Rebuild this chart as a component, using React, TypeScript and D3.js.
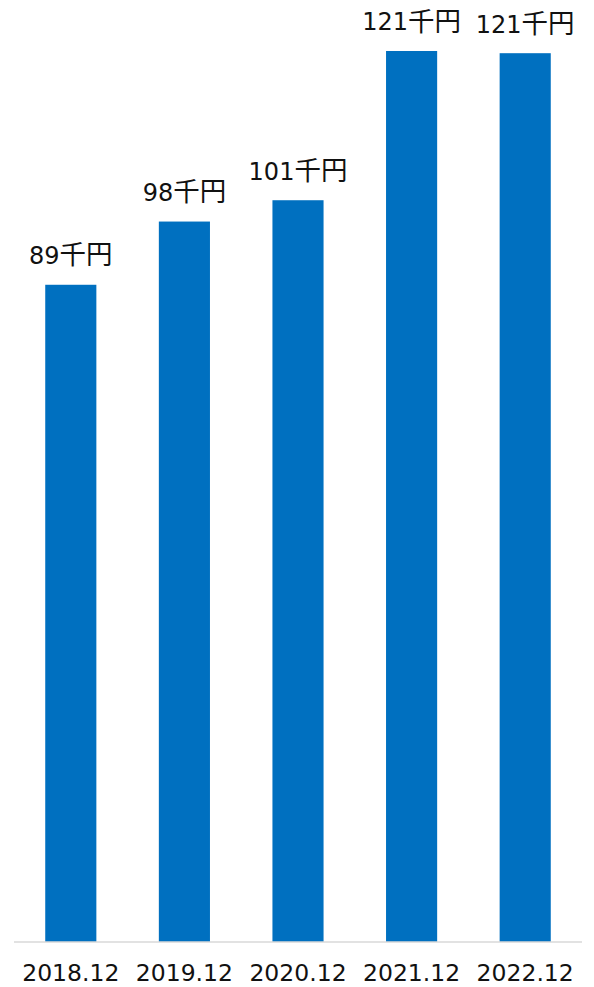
import React from "react";
import * as d3 from "d3";

const categories = ["2018.12", "2019.12", "2020.12", "2021.12", "2022.12"];
const values = [89.4, 98.0, 100.9, 121.2, 120.9];
const valueNumbers = ["89", "98", "101", "121", "121"];
const unitLabel = "千円";

const W = 594;
const H = 987;
const baseY = 942;
const FONT = "'DejaVu Sans', 'Noto Sans CJK JP', sans-serif";

export default function App() {
  const x = d3.scaleBand<string>().domain(categories).range([14, 582]).paddingInner(0.55).paddingOuter(0.275);
  const y = d3.scaleLinear().domain([0, 128]).range([baseY, 1]);
  return (
    <svg width={W} height={H} style={{ position: "absolute", left: 0, top: 0 }} fontFamily={FONT}>
      <rect width={W} height={H} fill="#fff" />
      {categories.map((c, i) => {
        const cx = (x(c) as number) + x.bandwidth() / 2;
        return (
          <g key={c}>
            <rect x={x(c)} y={y(values[i])} width={x.bandwidth()} height={baseY - y(values[i])} fill="#0070C0" />
            <text x={cx} y={y(values[i]) - 20.5} textAnchor="middle" fontSize={24} fill="#111">
              <tspan>{valueNumbers[i]}</tspan>
              <tspan fontFamily="'Noto Sans CJK JP', sans-serif" fontSize={26.5}>{unitLabel}</tspan>
            </text>
            <text x={cx} y={981} textAnchor="middle" fontSize={23.5} fill="#111">
              {c}
            </text>
          </g>
        );
      })}
      <line x1={14} x2={582} y1={baseY} y2={baseY} stroke="#d9d9d9" strokeWidth={1.5} />
    </svg>
  );
}
